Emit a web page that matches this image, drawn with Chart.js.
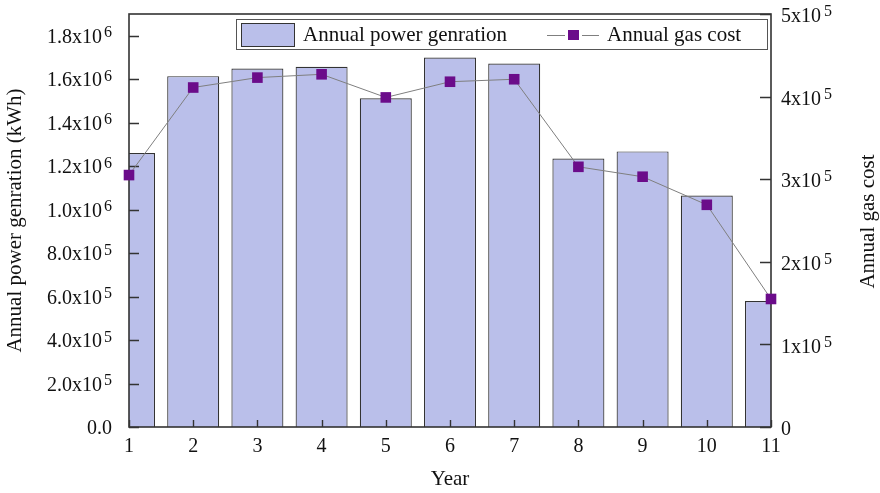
<!DOCTYPE html>
<html>
<head>
<meta charset="utf-8">
<script src="https://cdn.jsdelivr.net/npm/chart.js"></script>
<style>
  html, body { margin: 0; padding: 0; background: #fff; }
</style>
</head>
<body>
<canvas id="myChart" width="880" height="493"></canvas>
<script>
var years = ['1', '2', '3', '4', '5', '6', '7', '8', '9', '10', '11'];
var powerGeneration = [1260000, 1614000, 1649000, 1657000, 1512000, 1700000, 1672000, 1235000, 1268000, 1065000, 580000];
var gasCost = [305000, 411000, 423000, 427000, 399000, 418000, 421000, 315000, 303000, 269000, 155000];
var seriesNames = ['Annual power genration', 'Annual gas cost'];
var leftTicks = [0, 200000, 400000, 600000, 800000, 1000000, 1200000, 1400000, 1600000, 1800000];
var rightTicks = [0, 100000, 200000, 300000, 400000, 500000];
var rightTitle = 'Annual gas cost';

var FONT = 'Liberation Serif, Times New Roman, serif';
var barFill = '#babfea';
var markerColor = '#6b0c8a';
var textColor = '#111';

// split a value into mantissa text and power of ten
function sciParts(v, digits) {
  if (v === 0) return { base: digits ? (0).toFixed(digits) : '0', exp: '' };
  var e = Math.floor(Math.log10(v) + 1e-9);
  return { base: (v / Math.pow(10, e)).toFixed(digits) + 'x10', exp: String(e) };
}

// frame + inward tick marks, drawn after the bars but under the line
var framePlugin = {
  id: 'frame',
  afterDatasetDraw: function(chart, args) {
    if (args.index !== 0) return;
    var a = chart.chartArea, ctx = chart.ctx;
    var x = chart.scales.x, yl = chart.scales.y, yr = chart.scales.y1;
    ctx.save();
    ctx.strokeStyle = '#333';
    ctx.lineWidth = 1.6;
    ctx.strokeRect(a.left, a.top, a.right - a.left, a.bottom - a.top);
    ctx.lineWidth = 1.4;
    ctx.beginPath();
    yl.ticks.forEach(function(t) {
      var py = Math.round(yl.getPixelForValue(t.value)) + 0.5;
      ctx.moveTo(a.left, py); ctx.lineTo(a.left + 10, py);
    });
    yr.ticks.forEach(function(t) {
      var py = Math.round(yr.getPixelForValue(t.value)) + 0.5;
      ctx.moveTo(a.right, py); ctx.lineTo(a.right - 11, py);
    });
    x.ticks.forEach(function(t, i) {
      var px = Math.round(x.getPixelForTick(i)) + 0.5;
      ctx.moveTo(px, a.bottom); ctx.lineTo(px, a.bottom - 7);
    });
    ctx.stroke();
    ctx.restore();
  }
};

// superscript exponents next to the y tick labels, and the right axis title
var exponentPlugin = {
  id: 'exponents',
  afterDraw: function(chart) {
    var ctx = chart.ctx, yl = chart.scales.y, yr = chart.scales.y1, a = chart.chartArea;
    ctx.save();
    ctx.fillStyle = textColor;
    ctx.textBaseline = 'middle';
    ctx.font = '16px ' + FONT;
    ctx.textAlign = 'right';
    yl.ticks.forEach(function(t) {
      var p = sciParts(t.value, 1);
      if (p.exp) ctx.fillText(p.exp, yl.right - 17, yl.getPixelForValue(t.value) - 2.5);
    });
    ctx.textAlign = 'left';
    yr.ticks.forEach(function(t) {
      var p = sciParts(t.value, 0);
      if (!p.exp) return;
      ctx.font = '20px ' + FONT;
      var w = ctx.measureText(p.base).width;
      ctx.font = '16px ' + FONT;
      ctx.fillText(p.exp, yr.left + 10 + w + 3, yr.getPixelForValue(t.value) - 2);
    });
    // right title reads bottom to top, like the left one
    ctx.translate(yr.right - 12, (a.top + a.bottom) / 2 + 1);
    ctx.rotate(-Math.PI / 2);
    ctx.textAlign = 'center';
    ctx.font = '21px ' + FONT;
    ctx.fillText(rightTitle, 0, 0);
    ctx.restore();
  }
};

// boxed legend in the top right of the plot
var legendPlugin = {
  id: 'boxLegend',
  afterDraw: function(chart) {
    var a = chart.chartArea, ctx = chart.ctx;
    var bx = a.right - 535, by = a.top + 5, bw = 531, bh = 30;
    ctx.save();
    ctx.fillStyle = '#fff';
    ctx.fillRect(bx, by, bw, bh);
    ctx.strokeStyle = '#555';
    ctx.lineWidth = 1;
    ctx.strokeRect(bx + 0.5, by + 0.5, bw, bh);
    var cy = by + bh / 2 + 1;
    ctx.fillStyle = barFill;
    ctx.fillRect(bx + 5, by + 4, 53, 23);
    ctx.strokeStyle = '#333';
    ctx.strokeRect(bx + 5.5, by + 4.5, 53, 23);
    ctx.font = '21px ' + FONT;
    ctx.fillStyle = textColor;
    ctx.textBaseline = 'middle';
    ctx.fillText(seriesNames[0], bx + 67, cy);
    ctx.strokeStyle = '#7f7f7f';
    ctx.beginPath();
    ctx.moveTo(bx + 311, cy + 0.5); ctx.lineTo(bx + 329, cy + 0.5);
    ctx.moveTo(bx + 346, cy + 0.5); ctx.lineTo(bx + 363, cy + 0.5);
    ctx.stroke();
    ctx.fillStyle = markerColor;
    ctx.fillRect(bx + 332, cy - 5, 11, 10);
    ctx.fillStyle = textColor;
    ctx.fillText(seriesNames[1], bx + 371, cy);
    ctx.restore();
  }
};

function noEdgePadding(s) {
  s.paddingTop = 0; s.paddingBottom = 0; s.paddingLeft = 0; s.paddingRight = 0;
}

var ctx = document.getElementById('myChart').getContext('2d');
var myChart = new Chart(ctx, {
  type: 'bar',
  data: {
    labels: years,
    datasets: [{
      label: seriesNames[0],
      data: powerGeneration,
      yAxisID: 'y',
      backgroundColor: barFill,
      borderColor: '#333',
      borderWidth: 1.2,
      categoryPercentage: 1,
      barPercentage: 0.81,
      clip: 0,
      order: 2
    }, {
      type: 'line',
      label: seriesNames[1],
      data: gasCost,
      yAxisID: 'y1',
      borderColor: '#7f7f7f',
      borderWidth: 1,
      pointStyle: 'rect',
      pointRadius: 7.5,
      pointBackgroundColor: markerColor,
      pointBorderWidth: 0,
      clip: false,
      order: 1
    }]
  },
  options: {
    responsive: false,
    animation: false,
    devicePixelRatio: 1,
    layout: { padding: { top: 14 } },
    plugins: {
      legend: { display: false },
      tooltip: { enabled: false }
    },
    scales: {
      x: {
        offset: false,
        grid: { display: false, drawTicks: false },
        border: { display: false },
        ticks: { color: textColor, font: { family: FONT, size: 20 }, padding: 8, maxRotation: 0 },
        title: { display: true, text: 'Year', color: textColor, font: { family: FONT, size: 21 }, padding: { top: 0, bottom: 1 } },
        afterFit: function(s) { s.height = 66; noEdgePadding(s); }
      },
      y: {
        position: 'left',
        min: 0,
        max: 1900000,
        grid: { display: false, drawTicks: false },
        border: { display: false },
        afterBuildTicks: function(s) { s.ticks = leftTicks.map(function(v) { return { value: v }; }); },
        ticks: {
          color: textColor, font: { family: FONT, size: 20 }, padding: 17, labelOffset: 2,
          callback: function(v) {
            var p = sciParts(v, 1);
            return p.exp ? p.base + '\u2002' : p.base;
          }
        },
        title: { display: true, text: 'Annual power genration (kWh)', color: textColor, font: { family: FONT, size: 21 }, padding: { top: 3, bottom: 0 } },
        afterFit: function(s) { s.width = 129; noEdgePadding(s); }
      },
      y1: {
        position: 'right',
        min: 0,
        max: 500000,
        grid: { display: false, drawTicks: false },
        border: { display: false },
        afterBuildTicks: function(s) { s.ticks = rightTicks.map(function(v) { return { value: v }; }); },
        ticks: {
          color: textColor, font: { family: FONT, size: 20 }, padding: 10, labelOffset: 3,
          callback: function(v) { return sciParts(v, 0).base; }
        },
        title: { display: false },
        afterFit: function(s) { s.width = 109; noEdgePadding(s); }
      }
    }
  },
  plugins: [framePlugin, exponentPlugin, legendPlugin]
});
</script>
</body>
</html>
